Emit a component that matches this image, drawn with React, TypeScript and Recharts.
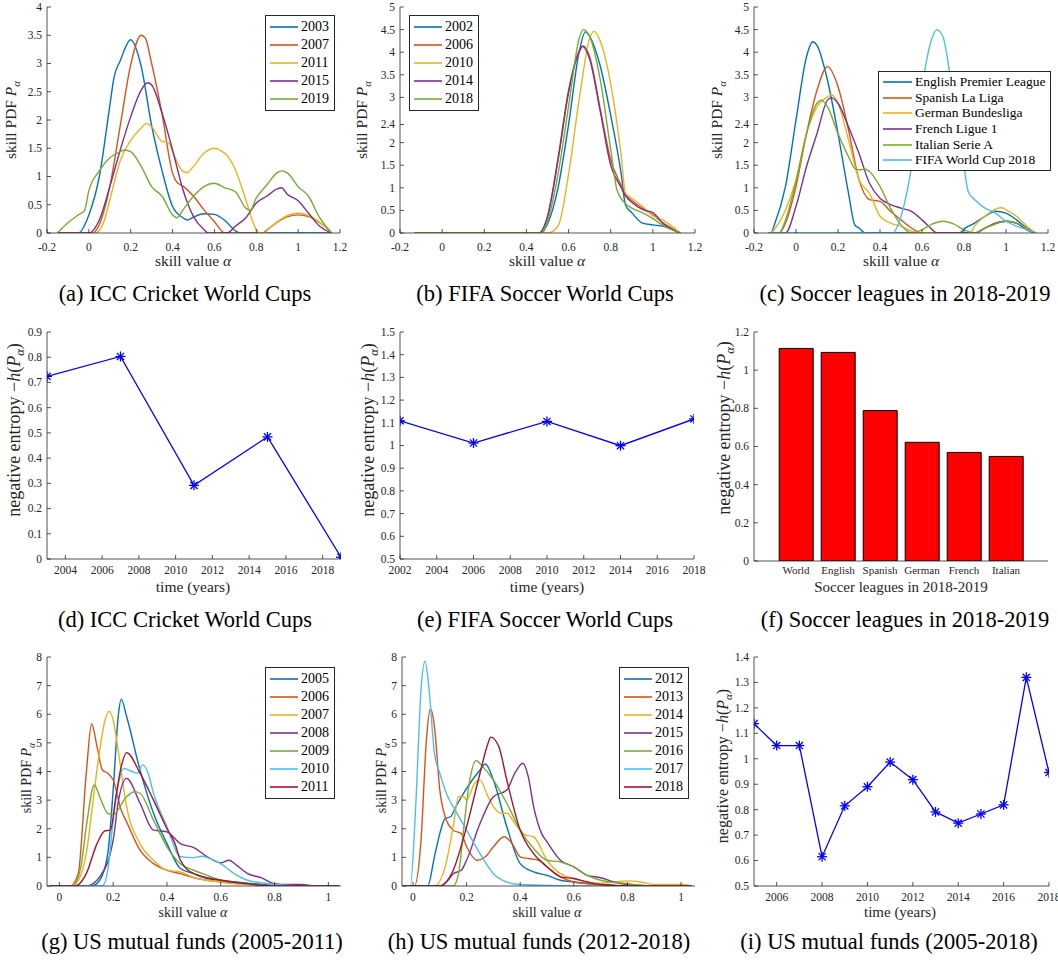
import React from 'react';
import { LineChart, Line, BarChart, Bar, XAxis, YAxis, Legend } from 'recharts';

const SERIF = '"Liberation Serif", "Times New Roman", serif';
const AX = '#262626';
const COLORS = ['#0072BD', '#D95319', '#EDB120', '#7E2F8E', '#77AC30', '#4DBEEE', '#A2142F'];

// (a) ICC Cricket World Cups - skill PDFs, [alpha, pdf]
const cricketYears = ['2003', '2007', '2011', '2015', '2019'];
const cricket2003 = [[-0.15, 0], [-0.05, 0], [0, 0.32], [0.05, 1.0], [0.1, 2.25], [0.12, 2.75], [0.15, 3.05], [0.2, 3.42], [0.25, 2.95], [0.3, 1.9], [0.35, 1.1], [0.4, 0.47], [0.45, 0.27], [0.47, 0.23], [0.5, 0.28], [0.55, 0.34], [0.6, 0.33], [0.65, 0.22], [0.7, 0.04], [0.72, 0], [1.16, 0]];
const cricket2007 = [[-0.15, 0], [0.02, 0], [0.05, 0.15], [0.1, 0.82], [0.15, 1.9], [0.2, 2.98], [0.25, 3.5], [0.27, 3.45], [0.3, 3.0], [0.35, 2.1], [0.4, 1.06], [0.42, 0.9], [0.45, 0.83], [0.5, 0.65], [0.55, 0.41], [0.6, 0.2], [0.65, 0], [0.83, 0], [0.85, 0.05], [0.9, 0.19], [0.95, 0.29], [1.0, 0.32], [1.05, 0.29], [1.1, 0.19], [1.15, 0.04], [1.16, 0]];
const cricket2011 = [[-0.15, 0], [0.03, 0], [0.07, 0.18], [0.1, 0.58], [0.15, 1.28], [0.2, 1.64], [0.25, 1.86], [0.275, 1.94], [0.3, 1.88], [0.35, 1.62], [0.38, 1.6], [0.4, 1.44], [0.45, 1.09], [0.47, 1.07], [0.5, 1.18], [0.55, 1.41], [0.6, 1.5], [0.63, 1.46], [0.65, 1.41], [0.7, 1.12], [0.75, 0.59], [0.8, 0.06], [0.82, 0], [0.84, 0], [0.85, 0.04], [0.9, 0.2], [0.95, 0.31], [1.0, 0.35], [1.05, 0.31], [1.1, 0.2], [1.15, 0.04], [1.16, 0]];
const cricket2015 = [[-0.15, 0], [0, 0], [0.05, 0.23], [0.1, 0.82], [0.15, 1.47], [0.2, 2.06], [0.25, 2.53], [0.28, 2.66], [0.3, 2.62], [0.35, 2.12], [0.4, 1.47], [0.45, 0.76], [0.5, 0.29], [0.55, 0.06], [0.57, 0], [0.66, 0], [0.7, 0.12], [0.75, 0.27], [0.8, 0.53], [0.85, 0.65], [0.9, 0.78], [0.92, 0.8], [0.95, 0.68], [1.0, 0.57], [1.05, 0.35], [1.1, 0.13], [1.16, 0]];
const cricket2019 = [[-0.15, 0], [-0.1, 0.18], [-0.05, 0.32], [-0.02, 0.4], [0, 0.75], [0.05, 1.1], [0.1, 1.33], [0.15, 1.44], [0.17, 1.47], [0.2, 1.44], [0.25, 1.18], [0.3, 0.82], [0.35, 0.65], [0.4, 0.32], [0.42, 0.27], [0.45, 0.41], [0.5, 0.65], [0.55, 0.82], [0.6, 0.88], [0.65, 0.8], [0.7, 0.73], [0.75, 0.44], [0.77, 0.4], [0.8, 0.62], [0.85, 0.85], [0.9, 1.07], [0.92, 1.1], [0.95, 1.06], [1.0, 0.82], [1.05, 0.65], [1.1, 0.29], [1.16, 0]];

// (b) FIFA Soccer World Cups - skill PDFs
const fifaYears = ['2002', '2006', '2010', '2014', '2018'];
const fifa2002 = [[-0.13, 0], [0.47, 0], [0.5, 0.2], [0.55, 1.0], [0.6, 2.4], [0.65, 4.0], [0.68, 4.45], [0.7, 4.35], [0.75, 3.7], [0.8, 2.6], [0.85, 1.3], [0.87, 0.62], [0.9, 0.45], [0.95, 0.22], [1.0, 0.18], [1.05, 0.15], [1.13, 0]];
const fifa2006 = [[-0.13, 0], [0.46, 0], [0.5, 0.35], [0.55, 1.6], [0.6, 3.1], [0.65, 4.0], [0.67, 4.14], [0.7, 3.9], [0.75, 2.75], [0.8, 1.62], [0.85, 1.05], [0.87, 0.85], [0.9, 0.72], [0.95, 0.55], [1.0, 0.4], [1.05, 0.22], [1.13, 0]];
const fifa2010 = [[-0.13, 0], [0.5, 0], [0.55, 0.15], [0.6, 1.3], [0.65, 2.95], [0.7, 4.3], [0.72, 4.46], [0.75, 4.25], [0.8, 3.3], [0.85, 1.7], [0.87, 0.88], [0.9, 0.77], [0.95, 0.59], [1.0, 0.38], [1.05, 0.28], [1.13, 0]];
const fifa2014 = [[-0.13, 0], [0.46, 0], [0.5, 0.37], [0.55, 1.65], [0.6, 3.15], [0.65, 4.02], [0.665, 4.13], [0.7, 3.85], [0.75, 2.7], [0.8, 1.5], [0.85, 1.0], [0.87, 0.82], [0.9, 0.68], [0.95, 0.52], [1.0, 0.45], [1.05, 0.2], [1.13, 0]];
const fifa2018 = [[-0.13, 0], [0.47, 0], [0.5, 0.25], [0.55, 1.3], [0.6, 2.8], [0.65, 4.3], [0.67, 4.5], [0.7, 4.35], [0.75, 3.4], [0.8, 1.85], [0.83, 0.95], [0.87, 0.65], [0.9, 0.55], [0.95, 0.45], [1.0, 0.32], [1.05, 0.16], [1.13, 0]];

// (c) Soccer leagues 2018-2019 - skill PDFs
const leagueNames = ['English Premier League', 'Spanish La Liga', 'German Bundesliga', 'French Ligue 1', 'Italian Serie A', 'FIFA World Cup 2018'];
const pdfEnglish = [[-0.13, 0], [-0.12, 0], [-0.1, 0.22], [-0.05, 1.03], [0, 2.5], [0.05, 3.9], [0.08, 4.23], [0.1, 4.15], [0.15, 3.38], [0.2, 2.2], [0.25, 0.88], [0.28, 0.18], [0.3, 0.11], [0.33, 0], [0.78, 0], [0.8, 0.09], [0.85, 0.22], [0.9, 0.37], [0.95, 0.48], [1.0, 0.44], [1.05, 0.29], [1.1, 0.11], [1.14, 0]];
const pdfSpanish = [[-0.13, 0], [-0.08, 0], [-0.05, 0.22], [0, 1.03], [0.05, 2.2], [0.1, 3.16], [0.15, 3.68], [0.2, 3.24], [0.25, 2.28], [0.3, 1.18], [0.35, 0.74], [0.4, 0.7], [0.45, 0.48], [0.5, 0.29], [0.55, 0.11], [0.6, 0], [0.85, 0], [0.9, 0.11], [0.95, 0.22], [1.0, 0.26], [1.05, 0.22], [1.1, 0.07], [1.14, 0]];
const pdfGerman = [[-0.13, 0], [-0.12, 0], [-0.1, 0.1], [-0.05, 0.51], [0, 1.18], [0.05, 2.2], [0.1, 2.79], [0.15, 3.01], [0.17, 3.06], [0.2, 2.87], [0.25, 2.06], [0.3, 1.18], [0.35, 0.88], [0.4, 0.37], [0.45, 0.22], [0.5, 0.15], [0.55, 0.04], [0.58, 0], [0.83, 0], [0.85, 0.15], [0.9, 0.37], [0.95, 0.53], [0.98, 0.56], [1.0, 0.51], [1.05, 0.37], [1.1, 0.15], [1.14, 0]];
const pdfFrench = [[-0.13, 0], [-0.05, 0], [0, 0.59], [0.05, 1.47], [0.1, 2.2], [0.15, 2.94], [0.17, 2.99], [0.2, 2.87], [0.25, 2.35], [0.3, 1.76], [0.35, 1.1], [0.4, 0.77], [0.45, 0.63], [0.5, 0.55], [0.55, 0.48], [0.6, 0.29], [0.65, 0.07], [0.67, 0], [0.85, 0], [0.9, 0.11], [0.95, 0.22], [1.0, 0.26], [1.05, 0.22], [1.1, 0.07], [1.14, 0]];
const pdfItalian = [[-0.13, 0], [-0.08, 0], [-0.05, 0.29], [0, 1.14], [0.05, 2.2], [0.1, 2.87], [0.12, 2.94], [0.15, 2.79], [0.2, 2.2], [0.25, 1.69], [0.28, 1.43], [0.3, 1.4], [0.33, 1.41], [0.35, 1.36], [0.4, 1.03], [0.45, 0.55], [0.5, 0.18], [0.55, 0], [0.6, 0.07], [0.65, 0.2], [0.7, 0.26], [0.75, 0.2], [0.8, 0.07], [0.85, 0], [0.9, 0.11], [0.95, 0.2], [1.0, 0.26], [1.05, 0.22], [1.1, 0.1], [1.14, 0]];
const pdfWorldCup = [[-0.13, 0], [0.46, 0], [0.5, 0.37], [0.55, 1.47], [0.6, 3.24], [0.65, 4.34], [0.67, 4.5], [0.7, 4.34], [0.75, 2.94], [0.8, 1.47], [0.82, 0.92], [0.85, 0.74], [0.9, 0.55], [0.95, 0.44], [1.0, 0.26], [1.05, 0.15], [1.1, 0.07], [1.14, 0]];

// (d)(e)(f)(i) negative entropy
const cricketYearNums = [2003, 2007, 2011, 2015, 2019];
const cricketEntropy = [0.724, 0.803, 0.292, 0.484, 0.007];
const fifaYearNums = [2002, 2006, 2010, 2014, 2018];
const fifaEntropy = [1.109, 1.011, 1.106, 0.999, 1.117];
const leagueShort = ['World', 'English', 'Spanish', 'German', 'French', 'Italian'];
const leagueEntropy = [1.114, 1.093, 0.788, 0.622, 0.569, 0.548];
const fundYearNums = [2005, 2006, 2007, 2008, 2009, 2010, 2011, 2012, 2013, 2014, 2015, 2016, 2017, 2018];
const fundEntropy = [1.138, 1.052, 1.052, 0.615, 0.815, 0.89, 0.987, 0.918, 0.791, 0.747, 0.783, 0.819, 1.32, 0.946];

// (g) US mutual funds 2005-2011 - skill PDFs
const fundYearsA = ['2005', '2006', '2007', '2008', '2009', '2010', '2011'];
const fund2005 = [[-0.035, 0], [0.12, 0], [0.15, 0.2], [0.18, 1.13], [0.2, 3.35], [0.22, 6.04], [0.23, 6.53], [0.25, 5.92], [0.3, 4.05], [0.35, 2.54], [0.4, 1.48], [0.45, 0.61], [0.5, 0.43], [0.55, 0.26], [0.6, 0.2], [0.7, 0.1], [0.8, 0.02], [0.85, 0], [1.04, 0]];
const fund2006 = [[-0.035, 0], [0.04, 0], [0.07, 0.43], [0.1, 3.94], [0.12, 5.67], [0.14, 4.87], [0.16, 4.05], [0.18, 3.94], [0.2, 3.7], [0.23, 2.65], [0.25, 2.24], [0.3, 1.25], [0.35, 0.78], [0.4, 0.55], [0.45, 0.43], [0.5, 0.29], [0.6, 0.14], [0.7, 0.06], [0.8, 0], [1.04, 0]];
const fund2007 = [[-0.035, 0], [0.04, 0], [0.07, 0.2], [0.1, 1.13], [0.13, 3.35], [0.15, 4.75], [0.17, 5.8], [0.185, 6.1], [0.2, 5.8], [0.22, 4.64], [0.25, 2.77], [0.3, 1.48], [0.35, 0.9], [0.4, 0.55], [0.45, 0.49], [0.5, 0.29], [0.6, 0.14], [0.7, 0.06], [0.8, 0], [1.04, 0]];
const fund2008 = [[-0.035, 0], [0.1, 0], [0.15, 0.32], [0.2, 1.6], [0.22, 3.0], [0.25, 3.76], [0.3, 2.89], [0.35, 1.95], [0.38, 1.92], [0.4, 1.89], [0.45, 1.48], [0.5, 1.34], [0.55, 1.02], [0.6, 0.81], [0.63, 0.9], [0.66, 0.72], [0.7, 0.43], [0.75, 0.29], [0.8, 0.08], [0.85, 0.05], [0.9, 0.05], [0.95, 0], [1.04, 0]];
const fund2009 = [[-0.035, 0], [0.05, 0], [0.08, 0.67], [0.1, 2.07], [0.13, 3.53], [0.15, 3.12], [0.18, 2.54], [0.2, 2.5], [0.25, 3.12], [0.28, 3.29], [0.3, 3.24], [0.35, 2.3], [0.4, 1.37], [0.45, 0.78], [0.5, 0.55], [0.55, 0.37], [0.6, 0.2], [0.7, 0.08], [0.8, 0], [1.04, 0]];
const fund2010 = [[-0.035, 0], [0.16, 0], [0.18, 0.55], [0.2, 2.3], [0.22, 3.59], [0.24, 4.11], [0.27, 4.0], [0.29, 3.94], [0.31, 4.23], [0.33, 3.94], [0.35, 3.24], [0.4, 2.07], [0.45, 1.02], [0.5, 0.99], [0.53, 1.04], [0.55, 0.99], [0.6, 0.78], [0.65, 0.43], [0.7, 0.2], [0.8, 0.06], [0.9, 0], [1.04, 0]];
const fund2011 = [[-0.035, 0], [0.06, 0], [0.1, 0.43], [0.14, 1.48], [0.17, 1.93], [0.19, 1.95], [0.21, 3.12], [0.23, 4.17], [0.25, 4.66], [0.3, 3.94], [0.35, 3.0], [0.4, 2.0], [0.43, 1.48], [0.45, 0.9], [0.5, 0.43], [0.6, 0.2], [0.7, 0.08], [0.8, 0], [1.04, 0]];

// (h) US mutual funds 2012-2018 - skill PDFs
const fundYearsB = ['2012', '2013', '2014', '2015', '2016', '2017', '2018'];
const fund2012 = [[-0.035, 0], [0.055, 0], [0.08, 1.02], [0.1, 1.83], [0.12, 2.36], [0.14, 2.42], [0.16, 2.77], [0.2, 3.41], [0.25, 4.05], [0.27, 4.26], [0.3, 3.7], [0.35, 2.07], [0.4, 0.78], [0.45, 0.49], [0.5, 0.37], [0.55, 0.2], [0.6, 0.14], [0.7, 0.05], [0.8, 0], [1.04, 0]];
const fund2013 = [[-0.035, 0], [0.005, 0], [0.03, 1.6], [0.05, 5.1], [0.065, 6.19], [0.08, 5.57], [0.1, 3.35], [0.12, 2.42], [0.15, 1.95], [0.18, 1.83], [0.2, 1.37], [0.24, 0.9], [0.27, 1.02], [0.3, 1.37], [0.34, 1.72], [0.37, 1.48], [0.4, 1.02], [0.43, 0.96], [0.47, 0.9], [0.5, 0.67], [0.55, 0.32], [0.6, 0.14], [0.7, 0.05], [0.8, 0], [1.04, 0]];
const fund2014 = [[-0.035, 0], [0.08, 0], [0.12, 0.67], [0.15, 2.07], [0.17, 3.12], [0.19, 3.12], [0.2, 3.0], [0.23, 3.59], [0.25, 3.7], [0.28, 3.12], [0.3, 2.77], [0.33, 2.54], [0.35, 2.54], [0.38, 2.18], [0.42, 1.78], [0.45, 1.72], [0.5, 0.9], [0.55, 0.43], [0.6, 0.26], [0.7, 0.1], [0.8, 0.18], [0.85, 0.14], [0.9, 0.05], [1.0, 0.05], [1.04, 0]];
const fund2015 = [[-0.035, 0], [0.1, 0], [0.13, 0.2], [0.15, 0.43], [0.18, 0.55], [0.2, 0.9], [0.25, 2.18], [0.3, 3.12], [0.35, 3.35], [0.38, 3.94], [0.41, 4.29], [0.43, 3.82], [0.45, 2.77], [0.48, 1.83], [0.5, 1.54], [0.55, 0.9], [0.6, 0.67], [0.65, 0.37], [0.7, 0.29], [0.75, 0.14], [0.8, 0.05], [0.9, 0], [1.04, 0]];
const fund2016 = [[-0.035, 0], [0.15, 0], [0.17, 0.43], [0.19, 2.07], [0.21, 3.59], [0.235, 4.38], [0.26, 4.17], [0.3, 3.7], [0.35, 2.89], [0.4, 1.95], [0.45, 1.31], [0.5, 0.9], [0.55, 0.84], [0.6, 0.67], [0.65, 0.37], [0.7, 0.2], [0.8, 0.08], [0.9, 0], [1.04, 0]];
const fund2017 = [[-0.035, 0], [-0.01, 0], [0.01, 2.77], [0.03, 6.86], [0.045, 7.85], [0.06, 6.86], [0.08, 4.64], [0.1, 3.94], [0.13, 3.12], [0.15, 2.77], [0.2, 1.95], [0.25, 1.13], [0.3, 0.43], [0.35, 0.14], [0.4, 0.05], [0.6, 0], [1.04, 0]];
const fund2018 = [[-0.035, 0], [0.1, 0], [0.15, 0.55], [0.2, 2.07], [0.25, 3.94], [0.28, 4.99], [0.29, 5.2], [0.32, 4.87], [0.35, 3.7], [0.4, 1.95], [0.45, 1.13], [0.5, 0.67], [0.55, 0.32], [0.6, 0.26], [0.65, 0.14], [0.7, 0.05], [0.8, 0], [1.04, 0]];

// tick lists
const alphaTicks = [-0.2, 0, 0.2, 0.4, 0.6, 0.8, 1, 1.2];
const fundAlphaTicks = [0, 0.2, 0.4, 0.6, 0.8, 1];
const pdfTicks4 = [0, 0.5, 1, 1.5, 2, 2.5, 3, 3.5, 4];
const pdfTicks5 = [0, 0.5, 1, 1.5, 2, 2.4, 3, 3.5, 4, 4.5, 5];
const pdfTicks8 = [0, 1, 2, 3, 4, 5, 6, 7, 8];
const cricketYTicks = [0, 0.1, 0.2, 0.3, 0.4, 0.5, 0.6, 0.7, 0.8, 0.9];
const cricketXTicks = [2004, 2006, 2008, 2010, 2012, 2014, 2016, 2018];
const fifaYTicks = [0.5, 0.6, 0.7, 0.8, 0.9, 1, 1.1, 1.2, 1.3, 1.4, 1.5];
const fifaXTicks = [2002, 2004, 2006, 2008, 2010, 2012, 2014, 2016, 2018];
const barYTicks = [0, 0.2, 0.4, 0.6, 0.8, 1, 1.2];
const fundYTicks = [0.5, 0.6, 0.7, 0.8, 0.9, 1, 1.1, 1.2, 1.3, 1.4];
const fundXTicks = [2006, 2008, 2010, 2012, 2014, 2016, 2018];

const pts = (a: number[][]) => a.map(([x, y]) => ({ x, y }));

type Box = { x0: number; y0: number; x1: number; y1: number };
const YW = 47, MT = 10, MR = 14, XH = 45;
const frame = (b: Box) => {
  const right = Math.min(MR, 1058 - b.x1);
  return { left: b.x0 - YW, top: b.y0 - MT, right, width: b.x1 - b.x0 + YW + right, height: b.y1 - b.y0 + MT + XH };
};

function BoxTick(p: any) {
  const { x, y, payload, side, fs = 11.5, off = 15, len = 4, show = true } = p;
  const t = String(payload.value);
  const ln = { stroke: AX, strokeWidth: 0.8 };
  const txt = { fontFamily: SERIF, fontSize: fs, fill: AX };
  if (side === 'bottom')
    return (
      <g>
        {len > 0 && <line x1={x} x2={x} y1={y} y2={y - len} {...ln} />}
        {show && <text x={x} y={y + off} textAnchor="middle" {...txt}>{t}</text>}
      </g>
    );
  if (side === 'top') return <line x1={x} x2={x} y1={y} y2={y + len} {...ln} />;
  if (side === 'left')
    return (
      <g>
        <line x1={x} x2={x + len} y1={y} y2={y} {...ln} />
        <text x={x - 5} y={y + fs * 0.34} textAnchor="end" {...txt}>{t}</text>
      </g>
    );
  return <line x1={x} x2={x - len} y1={y} y2={y} {...ln} />;
}

function Title({ x, y, fs, rotate, children }: any) {
  const bx = rotate ? x + fs * 0.28 : x;
  return (
    <text x={bx} y={y} transform={rotate ? `rotate(-90 ${bx} ${y})` : undefined} textAnchor="middle"
      fontFamily={SERIF} fontSize={fs} fill={AX}>
      {children}
    </text>
  );
}

const pdfLabel = (fs: number) => (
  <>
    <tspan>skill PDF </tspan>
    <tspan fontStyle="italic">P</tspan>
    <tspan fontStyle="italic" fontSize={fs * 0.7} dy={4}>α</tspan>
  </>
);
const alphaLabel = (
  <>
    <tspan>skill value </tspan>
    <tspan fontStyle="italic">α</tspan>
  </>
);
const entropyLabel = (fs: number) => (
  <>
    <tspan>negative entropy −</tspan>
    <tspan fontStyle="italic">h</tspan>
    <tspan>(</tspan>
    <tspan fontStyle="italic">P</tspan>
    <tspan fontStyle="italic" fontSize={fs * 0.7} dy={4}>α</tspan>
    <tspan dy={-4}>)</tspan>
  </>
);

function LegendBox({ payload, order, fs, rowH, lineW }: any) {
  const items = [...(payload || [])].sort((a: any, b: any) => order.indexOf(a.value) - order.indexOf(b.value));
  return (
    <div style={{ border: `1px solid ${AX}`, background: '#fff', padding: '2px 5px 2px 4px', fontFamily: SERIF, fontSize: fs, color: '#000', whiteSpace: 'nowrap' }}>
      {items.map((e: any) => (
        <div key={e.value} style={{ display: 'flex', alignItems: 'center', height: rowH }}>
          <svg width={lineW} height={6} style={{ marginRight: 3 }}>
            <line x1={0} y1={3} x2={lineW} y2={3} stroke={e.color} strokeWidth={1.6} />
          </svg>
          <span>{e.value}</span>
        </div>
      ))}
    </div>
  );
}

// the boxed MATLAB style frame: top x axis and right y axis with inward ticks only
const boxAxes = (xDomain: any, xTicks: any, yDomain: number[], yTicks: number[], xKey: string) => [
  <XAxis key="top" xAxisId="top" orientation="top" type="number" dataKey={xKey} domain={xDomain} ticks={xTicks} interval={0}
    allowDataOverflow height={0} tickSize={0} tickMargin={0} tickLine={false} axisLine={{ stroke: AX, strokeWidth: 0.8 }}
    tick={(p: any) => <BoxTick {...p} side="top" />} />,
  <YAxis key="right" yAxisId="right" orientation="right" type="number" domain={yDomain} ticks={yTicks} interval={0}
    allowDataOverflow width={0} tickSize={0} tickMargin={0} tickLine={false} axisLine={{ stroke: AX, strokeWidth: 0.8 }}
    tick={(p: any) => <BoxTick {...p} side="right" />} />,
];

function PdfPanel({ box, names, curves, xDomain, xTicks, yDomain, yTicks, leg, yT, xT, off, fs = 15.5 }: any) {
  const f = frame(box);
  return (
    <div style={{ position: 'absolute', left: f.left, top: f.top }}>
      <LineChart width={f.width} height={f.height} margin={{ top: MT, right: f.right, bottom: 0, left: 0 }}>
        <XAxis type="number" dataKey="x" domain={xDomain} ticks={xTicks} interval={0} allowDataOverflow height={XH}
          tickSize={0} tickMargin={0} tickLine={false} axisLine={{ stroke: AX, strokeWidth: 0.8 }}
          tick={(p: any) => <BoxTick {...p} side="bottom" off={off} />}
          label={{ content: () => <Title x={xT[0] - f.left} y={xT[1] - f.top} fs={fs}>{alphaLabel}</Title> }} />
        <YAxis type="number" domain={yDomain} ticks={yTicks} interval={0} allowDataOverflow width={YW}
          tickSize={0} tickMargin={0} tickLine={false} axisLine={{ stroke: AX, strokeWidth: 0.8 }}
          tick={(p: any) => <BoxTick {...p} side="left" />}
          label={{ content: () => <Title rotate x={yT[0] - f.left} y={yT[1] - f.top} fs={fs}>{pdfLabel(fs)}</Title> }} />
        {boxAxes(xDomain, xTicks, yDomain, yTicks, 'x')}
        {curves.map((c: number[][], i: number) => (
          <Line key={names[i]} name={names[i]} data={pts(c)} dataKey="y" type="monotone" stroke={COLORS[i]}
            strokeWidth={1.4} dot={false} isAnimationActive={false} />
        ))}
        <Legend layout="vertical" align="center" verticalAlign="middle"
          wrapperStyle={{ left: leg.x - f.left, top: leg.y - f.top, width: 'auto' }}
          content={(p: any) => <LegendBox payload={p.payload} order={names} fs={leg.fs} rowH={leg.rowH} lineW={leg.lineW} />} />
      </LineChart>
    </div>
  );
}

function Star(p: any) {
  const { cx, cy } = p;
  const r = 5, d = 3.6;
  return (
    <g stroke="#0000FF" strokeWidth={1.3}>
      <line x1={cx - r} x2={cx + r} y1={cy} y2={cy} />
      <line x1={cx} x2={cx} y1={cy - r} y2={cy + r} />
      <line x1={cx - d} x2={cx + d} y1={cy - d} y2={cy + d} />
      <line x1={cx - d} x2={cx + d} y1={cy + d} y2={cy - d} />
    </g>
  );
}

function EntropyPanel({ box, years, values, xDomain, xTicks, yDomain, yTicks, yT, xT, fs, yfs, off }: any) {
  const f = frame(box);
  const rows = years.map((yr: number, i: number) => ({ year: yr, v: values[i] }));
  return (
    <div style={{ position: 'absolute', left: f.left, top: f.top }}>
      <LineChart width={f.width} height={f.height} data={rows} margin={{ top: MT, right: f.right, bottom: 0, left: 0 }}>
        <XAxis type="number" dataKey="year" domain={xDomain} ticks={xTicks} interval={0} allowDataOverflow height={XH}
          tickSize={0} tickMargin={0} tickLine={false} axisLine={{ stroke: AX, strokeWidth: 0.8 }}
          tick={(p: any) => <BoxTick {...p} side="bottom" off={off} />}
          label={{ content: () => <Title x={xT[0] - f.left} y={xT[1] - f.top} fs={fs}>time (years)</Title> }} />
        <YAxis type="number" domain={yDomain} ticks={yTicks} interval={0} allowDataOverflow width={YW}
          tickSize={0} tickMargin={0} tickLine={false} axisLine={{ stroke: AX, strokeWidth: 0.8 }}
          tick={(p: any) => <BoxTick {...p} side="left" />}
          label={{ content: () => <Title rotate x={yT[0] - f.left} y={yT[1] - f.top} fs={yfs}>{entropyLabel(yfs)}</Title> }} />
        {boxAxes(xDomain, xTicks, yDomain, yTicks, 'year')}
        <Line dataKey="v" type="linear" stroke="#0000FF" strokeWidth={1.3} dot={(p: any) => <Star key={p.index} {...p} />}
          isAnimationActive={false} />
      </LineChart>
    </div>
  );
}

function LeaguesBar({ box }: any) {
  const f = frame(box);
  const rows = leagueShort.map((n, i) => ({ name: n, v: leagueEntropy[i] }));
  const band = (box.x1 - box.x0) / 7;
  return (
    <div style={{ position: 'absolute', left: f.left, top: f.top }}>
      <BarChart width={f.width} height={f.height} data={rows} barCategoryGap="10%" margin={{ top: MT, right: f.right, bottom: 0, left: 0 }}>
        <XAxis dataKey="name" type="category" padding={{ left: band / 2, right: band / 2 }} interval={0} height={XH}
          tickSize={0} tickMargin={0} tickLine={false} axisLine={{ stroke: AX, strokeWidth: 0.8 }}
          tick={(p: any) => <BoxTick {...p} side="bottom" len={0} fs={11} off={13} />}
          label={{ content: () => <Title x={901 - f.left} y={592 - f.top} fs={15}>Soccer leagues in 2018-2019</Title> }} />
        <YAxis type="number" domain={[0, 1.2]} ticks={barYTicks} interval={0} allowDataOverflow width={YW}
          tickSize={0} tickMargin={0} tickLine={false} axisLine={{ stroke: AX, strokeWidth: 0.8 }}
          tick={(p: any) => <BoxTick {...p} side="left" />}
          label={{ content: () => <Title rotate x={725 - f.left} y={428 - f.top} fs={18}>{entropyLabel(18)}</Title> }} />
        <XAxis xAxisId="top" orientation="top" dataKey="name" type="category" padding={{ left: band / 2, right: band / 2 }}
          height={0} tick={false} tickLine={false} axisLine={{ stroke: AX, strokeWidth: 0.8 }} />
        <YAxis yAxisId="right" orientation="right" type="number" domain={[0, 1.2]} ticks={barYTicks} interval={0}
          allowDataOverflow width={0} tickSize={0} tickMargin={0} tickLine={false} axisLine={{ stroke: AX, strokeWidth: 0.8 }}
          tick={(p: any) => <BoxTick {...p} side="right" />} />
        <Bar dataKey="v" fill="#FF0000" stroke="#000" strokeWidth={1} isAnimationActive={false} />
      </BarChart>
    </div>
  );
}

const captions = [
  { t: '(a) ICC Cricket World Cups', x: 185, y: 302 },
  { t: '(b) FIFA Soccer World Cups', x: 545, y: 302 },
  { t: '(c) Soccer leagues in 2018-2019', x: 905, y: 302 },
  { t: '(d) ICC Cricket World Cups', x: 185, y: 628 },
  { t: '(e) FIFA Soccer World Cups', x: 545, y: 628 },
  { t: '(f) Soccer leagues in 2018-2019', x: 905, y: 628 },
  { t: '(g) US mutual funds (2005-2011)', x: 192, y: 950 },
  { t: '(h) US mutual funds (2012-2018)', x: 539, y: 950 },
  { t: '(i) US mutual funds (2005-2018)', x: 889, y: 950 },
];
const CAP_FS = 22.5;

export default function App() {
  const legBig = { fs: 14, rowH: 18, lineW: 28 };
  return (
    <div style={{ position: 'absolute', left: 0, top: 0, width: 1058, height: 964, overflow: 'hidden', background: '#fff' }}>
      <PdfPanel box={{ x0: 47, y0: 7, x1: 340, y1: 233 }} names={cricketYears}
        curves={[cricket2003, cricket2007, cricket2011, cricket2015, cricket2019]}
        xDomain={[-0.2, 1.2]} xTicks={alphaTicks} yDomain={[0, 4]} yTicks={pdfTicks4}
        leg={{ x: 265, y: 15, ...legBig }} yT={[12, 120]} xT={[193, 266]} off={18} />
      <PdfPanel box={{ x0: 400, y0: 7, x1: 695, y1: 233 }} names={fifaYears}
        curves={[fifa2002, fifa2006, fifa2010, fifa2014, fifa2018]}
        xDomain={[-0.2, 1.2]} xTicks={alphaTicks} yDomain={[0, 5]} yTicks={pdfTicks5}
        leg={{ x: 409, y: 15, ...legBig }} yT={[363, 120]} xT={[547, 266]} off={18} />
      <PdfPanel box={{ x0: 754, y0: 7, x1: 1048, y1: 233 }} names={leagueNames}
        curves={[pdfEnglish, pdfSpanish, pdfGerman, pdfFrench, pdfItalian, pdfWorldCup]}
        xDomain={[-0.2, 1.2]} xTicks={alphaTicks} yDomain={[0, 5]} yTicks={pdfTicks5}
        leg={{ x: 878, y: 71, fs: 13.5, rowH: 15.7, lineW: 29 }} yT={[718, 120]} xT={[901, 266]} off={18} />

      <EntropyPanel box={{ x0: 47, y0: 332, x1: 341, y1: 559 }} years={cricketYearNums} values={cricketEntropy}
        xDomain={[2003, 2019]} xTicks={cricketXTicks} yDomain={[0, 0.9]} yTicks={cricketYTicks}
        yT={[15, 430]} xT={[193, 592]} fs={15.5} yfs={18} off={15} />
      <EntropyPanel box={{ x0: 400, y0: 332, x1: 694, y1: 559 }} years={fifaYearNums} values={fifaEntropy}
        xDomain={[2002, 2018]} xTicks={fifaXTicks} yDomain={[0.5, 1.5]} yTicks={fifaYTicks}
        yT={[369, 430]} xT={[547, 592]} fs={15.5} yfs={18} off={15} />
      <LeaguesBar box={{ x0: 754, y0: 332, x1: 1048, y1: 561 }} />

      <PdfPanel box={{ x0: 47, y0: 657, x1: 341, y1: 886 }} names={fundYearsA}
        curves={[fund2005, fund2006, fund2007, fund2008, fund2009, fund2010, fund2011]}
        xDomain={[-0.046, 1.047]} xTicks={fundAlphaTicks} yDomain={[0, 8]} yTicks={pdfTicks8}
        leg={{ x: 265, y: 667, ...legBig }} yT={[27, 778]} xT={[193, 917]} off={15} fs={14} />
      <PdfPanel box={{ x0: 402, y0: 657, x1: 695, y1: 886 }} names={fundYearsB}
        curves={[fund2012, fund2013, fund2014, fund2015, fund2016, fund2017, fund2018]}
        xDomain={[-0.041, 1.052]} xTicks={fundAlphaTicks} yDomain={[0, 8]} yTicks={pdfTicks8}
        leg={{ x: 619, y: 667, ...legBig }} yT={[382, 778]} xT={[547, 917]} off={15} fs={14} />
      <EntropyPanel box={{ x0: 754, y0: 657, x1: 1049, y1: 886 }} years={fundYearNums} values={fundEntropy}
        xDomain={[2005, 2018]} xTicks={fundXTicks} yDomain={[0.5, 1.4]} yTicks={fundYTicks}
        yT={[724, 766]} xT={[900, 917]} fs={15} yfs={16} off={15} />

      {captions.map((c) => (
        <div key={c.t} style={{ position: 'absolute', left: c.x - 200, width: 400, top: c.y - CAP_FS * 0.8375, textAlign: 'center',
          fontFamily: SERIF, fontSize: CAP_FS, lineHeight: `${CAP_FS}px`, color: '#000', whiteSpace: 'nowrap' }}>
          {c.t}
        </div>
      ))}
    </div>
  );
}
